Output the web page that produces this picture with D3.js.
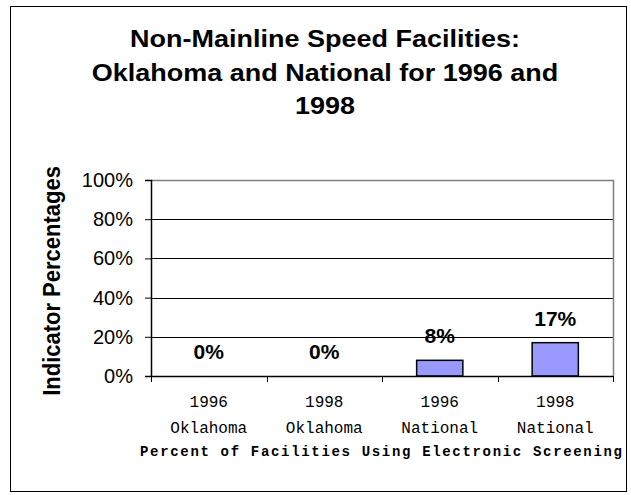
<!DOCTYPE html>
<meta charset="utf-8" />
<style>
  body { margin: 0; background: #fff; }
  svg text { fill: #000; }
</style>
<body>
<div id="chart"></div>
<script src="https://d3js.org/d3.v7.min.js"></script>
<script>
  // chart data
  var years = ["1996", "1998", "1996", "1998"];
  var places = ["Oklahoma", "Oklahoma", "National", "National"];
  var values = [0, 0, 8, 17];
  var yTicks = [0, 20, 40, 60, 80, 100];
  var titleLines = ["Non-Mainline Speed Facilities:", "Oklahoma and National for 1996 and", "1998"];

  var W = 631, H = 495;
  var margin = { top: 180, right: 18, bottom: 119, left: 151 },
    width = W - margin.left - margin.right,
    height = H - margin.top - margin.bottom;

  var sans = "Arial, 'Liberation Sans', sans-serif";
  var mono = "'Liberation Mono', 'Courier New', monospace";

  var svg = d3.select("#chart").append("svg")
    .attr("width", W).attr("height", H);

  // outer frame
  svg.append("rect")
    .attr("x", 10.5).attr("y", 6.5)
    .attr("width", 616).attr("height", 485)
    .attr("fill", "none").attr("stroke", "#000").attr("stroke-width", 1);

  // title (text in the original is a bit wide, so stretch it)
  svg.append("g").selectAll("text")
    .data(titleLines).enter().append("text")
    .attr("transform", function (d, i) { return "translate(325," + (47 + i * 33.5) + ") scale(1.125,1)"; })
    .attr("text-anchor", "middle")
    .style("font-family", sans)
    .style("font-weight", "bold").style("font-size", "24px")
    .text(function (d) { return d; });

  var idx = d3.range(values.length);
  var x = d3.scaleBand().domain(idx).range([0, width]).paddingInner(0.6).paddingOuter(0.3);
  var y = d3.scaleLinear().domain([0, 100]).range([height, 0]);

  var g = svg.append("g").attr("transform", "translate(" + margin.left + "," + margin.top + ")");

  // gridlines
  g.selectAll(".grid").data(yTicks.filter(function (d) { return d > 0 && d < 100; }))
    .enter().append("line")
    .attr("x1", 0).attr("x2", width)
    .attr("y1", function (d) { return Math.round(y(d)) + 0.5; })
    .attr("y2", function (d) { return Math.round(y(d)) + 0.5; })
    .attr("stroke", "#000").attr("stroke-width", 1);

  // plot frame top / right (grey)
  g.append("path")
    .attr("d", "M0," + (y(100) + 0.5) + "H" + (width + 0.5) + "V" + height)
    .attr("fill", "none").attr("stroke", "#808080").attr("stroke-width", 1.5);

  // bars
  g.selectAll(".bar").data(values).enter().append("rect")
    .attr("x", function (d, i) { return x(i); })
    .attr("y", function (d) { return y(d); })
    .attr("width", x.bandwidth())
    .attr("height", function (d) { return height - y(d); })
    .attr("fill", "#9999ff")
    .attr("stroke", "#000").attr("stroke-width", 1.5)
    .style("display", function (d) { return d > 0 ? null : "none"; });

  // value labels
  g.selectAll(".lbl").data(values).enter().append("text")
    .attr("x", function (d, i) { return x(i) + x.bandwidth() / 2; })
    .attr("y", function (d) { return y(d) - 17; })
    .attr("text-anchor", "middle")
    .style("font-family", sans)
    .style("font-weight", "bold").style("font-size", "21px")
    .text(function (d) { return d + "%"; });

  // y axis
  var yAxis = g.append("g")
    .call(d3.axisLeft(y).tickValues(yTicks).tickSize(6).tickFormat(function (d) { return d + "%"; }));
  yAxis.select(".domain").attr("stroke", "#000").attr("stroke-width", 1.5);
  yAxis.selectAll("text")
    .style("font-family", sans)
    .style("font-size", "20px").attr("x", -18);

  // x axis with ticks at category edges
  var xa = g.append("g").attr("transform", "translate(0," + height + ")");
  xa.append("line").attr("x1", 0).attr("x2", width).attr("y1", 0.5).attr("y2", 0.5)
    .attr("stroke", "#000").attr("stroke-width", 1.5);
  var step = x.step(), x0 = x(0) - step * x.paddingInner() / 2;
  xa.selectAll(".tk").data(d3.range(values.length + 1)).enter().append("line")
    .attr("x1", function (d) { return Math.round(d * step) + 0.5; })
    .attr("x2", function (d) { return Math.round(d * step) + 0.5; })
    .attr("y1", 0).attr("y2", 6).attr("stroke", "#000");

  xa.selectAll(".yr").data(years).enter().append("text")
    .attr("x", function (d, i) { return x(i) + x.bandwidth() / 2; })
    .attr("y", 31).attr("text-anchor", "middle")
    .style("font-family", mono).style("font-size", "16px")
    .text(function (d) { return d; });
  xa.selectAll(".pl").data(places).enter().append("text")
    .attr("x", function (d, i) { return x(i) + x.bandwidth() / 2; })
    .attr("y", 57).attr("text-anchor", "middle")
    .style("font-family", mono).style("font-size", "16px")
    .text(function (d) { return d; });

  // axis titles
  svg.append("text")
    .attr("x", 381).attr("y", 456).attr("text-anchor", "middle")
    .attr("textLength", 482).attr("lengthAdjust", "spacing")
    .style("font-family", mono).style("font-weight", "bold").style("font-size", "14px")
    .text("Percent of Facilities Using Electronic Screening");

  svg.append("text")
    .attr("transform", "translate(60,281) rotate(-90) scale(1,1.1)")
    .attr("text-anchor", "middle")
    .style("font-family", sans)
    .style("font-weight", "bold").style("font-size", "22px")
    .text("Indicator Percentages");
</script>
</body>
